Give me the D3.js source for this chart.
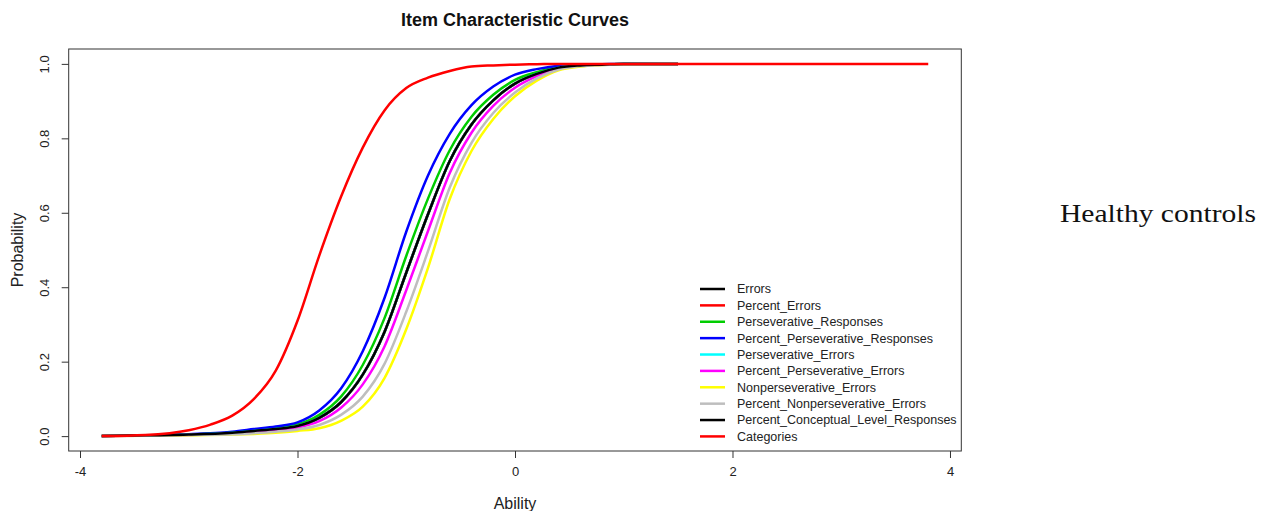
<!DOCTYPE html>
<html>
<head>
<meta charset="utf-8">
<script src="https://cdn.jsdelivr.net/npm/d3@7"></script>
<style>
  body { margin: 0; background: #fff; }
  svg { display: block; }
</style>
</head>
<body>
<svg id="chart" width="1268" height="511"></svg>
<script>
// ability grid shared by the group of item curves
const ability = [-3.8, -3.4, -3.0, -2.6, -2.4, -2.2, -2.0, -1.8, -1.6, -1.4, -1.2, -1.0,
    -0.8, -0.6, -0.4, -0.2, 0, 0.2, 0.4, 0.6, 0.8, 1.0, 1.5];
// the Categories curve runs over the full range
const abilityCategories = [-3.8, -3.4, -3.0, -2.8, -2.6, -2.4, -2.2, -2.0, -1.8, -1.6, -1.4,
    -1.2, -1.0, -0.8, -0.6, -0.4, -0.2, 0, 0.2, 0.4, 1.0, 2.0, 3.0, 3.8];

// probabilities
const pBlack = [0, 0.002, 0.004, 0.009, 0.014, 0.019, 0.027, 0.049, 0.091, 0.165, 0.280, 0.439,
    0.596, 0.739, 0.837, 0.902, 0.947, 0.973, 0.990, 0.996, 0.998, 1, 1];
const pGreen = [0, 0.002, 0.004, 0.010, 0.016, 0.022, 0.031, 0.057, 0.106, 0.191, 0.317, 0.484,
    0.638, 0.768, 0.858, 0.917, 0.957, 0.978, 0.992, 0.997, 0.999, 1, 1];
const pBlue = [0, 0.002, 0.005, 0.012, 0.019, 0.026, 0.037, 0.069, 0.128, 0.228, 0.371, 0.549,
    0.700, 0.812, 0.889, 0.939, 0.971, 0.986, 0.995, 0.998, 0.999, 1, 1];
const pMagenta = [0, 0.001, 0.003, 0.007, 0.011, 0.016, 0.023, 0.040, 0.076, 0.139, 0.241, 0.392,
    0.551, 0.707, 0.815, 0.887, 0.936, 0.967, 0.988, 0.995, 0.998, 0.999, 1];
const pYellow = [0, 0.001, 0.002, 0.004, 0.006, 0.009, 0.014, 0.021, 0.041, 0.079, 0.156, 0.287,
    0.452, 0.637, 0.766, 0.852, 0.913, 0.955, 0.983, 0.993, 0.997, 0.999, 1];
const pGray = [0, 0.001, 0.003, 0.005, 0.008, 0.012, 0.018, 0.030, 0.057, 0.106, 0.194, 0.334,
    0.497, 0.668, 0.788, 0.868, 0.923, 0.961, 0.985, 0.994, 0.997, 0.999, 1];
const pCategories = [0, 0.003, 0.016, 0.031, 0.055, 0.100, 0.176, 0.310, 0.485, 0.643, 0.775,
    0.875, 0.935, 0.963, 0.981, 0.993, 0.996, 0.998, 0.999, 1, 1, 1, 1, 1];

const itemNames = ["Errors", "Percent_Errors", "Perseverative_Responses",
    "Percent_Perseverative_Responses", "Perseverative_Errors", "Percent_Perseverative_Errors",
    "Nonperseverative_Errors", "Percent_Nonperseverative_Errors",
    "Percent_Conceptual_Level_Responses", "Categories"];
const itemColors = ["#000000", "#ff0000", "#00cd00", "#0000ff", "#00ffff", "#ff00ff",
    "#ffff00", "#bebebe", "#000000", "#ff0000"];
// curves hidden under the black one share its values
const itemX = [ability, ability, ability, ability, ability, ability, ability, ability, ability, abilityCategories];
const itemP = [pBlack, pBlack, pGreen, pBlue, pBlack, pMagenta, pYellow, pGray, pBlack, pCategories];

const xTicks = [-4, -2, 0, 2, 4];
const yTicks = [0, 0.2, 0.4, 0.6, 0.8, 1.0];

const svg = d3.select("#chart");
const plot = { left: 68.7, right: 961.3, top: 49, bottom: 451 };

// R style 4% padding around the data range
const x = d3.scaleLinear().domain([-4.104, 4.104]).range([plot.left, plot.right]);
const y = d3.scaleLinear().domain([-0.04, 1.04]).range([plot.bottom, plot.top]);

const axisColor = "#333";
const font = "'Liberation Sans', Arial, sans-serif";

// curves
const line = d3.line()
    .x(d => x(d[0]))
    .y(d => y(d[1]))
    .curve(d3.curveMonotoneX);

itemNames.forEach((name, i) => {
    const pts = itemX[i].map((a, j) => [a, itemP[i][j]]);
    svg.append("path")
        .attr("d", line(pts))
        .attr("fill", "none")
        .attr("stroke", itemColors[i])
        .attr("stroke-width", 2.5)
        .attr("stroke-linejoin", "round");
});

// box
svg.append("rect")
    .attr("x", plot.left).attr("y", plot.top)
    .attr("width", plot.right - plot.left).attr("height", plot.bottom - plot.top)
    .attr("fill", "none")
    .attr("stroke", axisColor)
    .attr("stroke-width", 1);

// x axis (plain hyphen for negatives, like R)
const xAxis = svg.append("g")
    .attr("transform", `translate(0,${plot.bottom})`)
    .call(d3.axisBottom(x).tickValues(xTicks).tickSize(7).tickPadding(9).tickFormat(d => String(d)));
xAxis.select(".domain").remove();
xAxis.selectAll("line").attr("stroke", axisColor);
xAxis.selectAll("text").attr("fill", "#222").style("font-family", font).style("font-size", "13px");

// y axis with rotated labels
const yAxis = svg.append("g")
    .attr("transform", `translate(${plot.left},0)`)
    .call(d3.axisLeft(y).tickValues(yTicks).tickSize(7).tickFormat(d3.format(".1f")));
yAxis.select(".domain").remove();
yAxis.selectAll("line").attr("stroke", axisColor);
yAxis.selectAll("text")
    .attr("fill", "#222")
    .attr("x", 0).attr("dy", 0)
    .attr("text-anchor", "middle")
    .attr("transform", "translate(-20,0) rotate(-90)")
    .style("font-family", font).style("font-size", "13px");

// titles
svg.append("text")
    .attr("x", (plot.left + plot.right) / 2).attr("y", 26)
    .attr("text-anchor", "middle")
    .style("font-family", font).style("font-size", "18px").style("font-weight", "bold")
    .attr("fill", "#111")
    .text("Item Characteristic Curves");

svg.append("text")
    .attr("x", (plot.left + plot.right) / 2).attr("y", 509)
    .attr("text-anchor", "middle")
    .style("font-family", font).style("font-size", "16px")
    .attr("fill", "#222")
    .text("Ability");

svg.append("text")
    .attr("transform", `translate(23,${(plot.top + plot.bottom) / 2}) rotate(-90)`)
    .attr("text-anchor", "middle")
    .style("font-family", font).style("font-size", "16px")
    .attr("fill", "#222")
    .text("Probability");

// legend, bottom right, no border
const legend = svg.append("g").attr("transform", "translate(700,289)");
const rowH = 16.38;
itemNames.forEach((name, i) => {
    const g = legend.append("g").attr("transform", `translate(0,${i * rowH})`);
    g.append("line")
        .attr("x1", 0).attr("x2", 25)
        .attr("stroke", itemColors[i])
        .attr("stroke-width", 2.5);
    g.append("text")
        .attr("x", 37).attr("dy", "0.35em")
        .style("font-family", font).style("font-size", "12.5px")
        .attr("fill", "#222")
        .text(name);
});

// side label
svg.append("text")
    .attr("x", 1060).attr("y", 222)
    .attr("textLength", 196)
    .attr("lengthAdjust", "spacingAndGlyphs")
    .style("font-family", "'Liberation Serif', 'DejaVu Serif', serif")
    .style("font-size", "25px")
    .attr("fill", "#111")
    .text("Healthy controls");
</script>
</body>
</html>
